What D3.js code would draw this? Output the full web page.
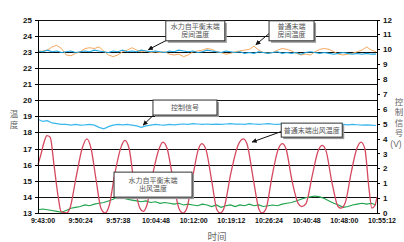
<!DOCTYPE html>
<meta charset="utf-8">
<style>
body { margin: 0; background: #fff; font-family: "Liberation Sans", Arial, sans-serif; }
.axis path, .axis line { stroke: #000; stroke-width: 1; shape-rendering: crispEdges; }
.axis text { font-weight: bold; fill: #111; }
.grid line { stroke: #111; stroke-width: 1; shape-rendering: crispEdges; }
.note text { font-family: "Noto Sans CJK SC", sans-serif; font-size: 7px; fill: #555; }
.title { font-family: "Noto Sans CJK SC", sans-serif; font-size: 8.5px; fill: #666; }
</style>
<body>
<script src="https://d3js.org/d3.v7.min.js"></script>
<script>

// x in minutes after 9:43:00
var timeLabels = ["9:43:00", "9:50:24", "9:57:38", "10:04:48", "10:12:00", "10:19:12", "10:26:24", "10:40:48", "10:48:00", "10:55:12"];
var totalMinutes = 72.2;
var rightLabels = ["0", "1", "1", "2", "3", "4", "5", "6", "7", "8", "9", "10", "11", "12"];

// 普通末端出风温度 [minute, °C]
var redOutlet = [
  [0.0,16.0],[0.6,16.6],[1.3,17.4],[1.9,17.8],[2.6,17.7],[3.4,16.0],[4.3,14.0],[4.9,13.1],[6.0,13.0],[6.8,13.3],
  [8.1,15.2],[9.4,17.0],[10.4,17.6],[11.3,17.0],[12.4,15.0],[13.4,13.3],[14.3,13.0],[15.1,13.4],[16.4,15.5],[17.7,17.1],
  [18.5,17.5],[19.4,17.0],[20.4,15.0],[21.7,13.3],[22.4,13.1],[23.2,13.5],[24.5,15.5],[25.8,17.0],[26.6,17.4],[27.5,17.0],
  [28.8,15.0],[30.0,13.3],[30.9,13.0],[31.7,13.3],[33.0,15.3],[34.1,16.9],[34.9,17.3],[35.8,16.9],[37.1,14.8],[38.1,13.2],
  [38.8,13.0],[39.6,13.3],[41.1,15.5],[42.6,17.2],[43.7,17.6],[44.5,17.3],[45.8,15.2],[47.1,13.2],[47.7,13.0],[48.6,13.3],
  [49.8,15.2],[51.1,16.9],[52.0,17.3],[52.8,17.0],[54.1,15.0],[55.4,13.6],[56.2,13.4],[57.1,13.6],[58.4,15.3],[59.6,16.8],
  [60.5,17.2],[61.3,16.9],[62.6,14.9],[63.9,13.4],[64.5,13.3],[65.4,13.6],[66.7,15.5],[67.9,17.0],[68.8,17.4],[69.6,17.0],
  [70.5,14.5],[71.1,13.3],[71.8,13.5],[72.2,14.0]
];

// one value per minute, 0..72
var greenOutlet = [13.2,13.25,13.2,13.15,13.1,13.05,13.15,13.3,13.35,13.4,13.5,13.45,13.55,13.6,13.65,13.75,13.85,14.0,13.95,13.85,
  13.8,13.75,13.7,13.75,13.65,13.7,13.6,13.65,13.6,13.55,13.6,13.5,13.55,13.5,13.45,13.55,13.5,13.4,13.5,13.35,
  13.45,13.5,13.4,13.5,13.45,13.55,13.45,13.5,13.4,13.45,13.5,13.45,13.55,13.6,13.65,13.75,13.85,13.95,14.0,14.05,
  14.0,13.9,13.75,13.6,13.5,13.35,13.4,13.5,13.55,13.6,13.55,13.6,13.5];

var orangeRoom = [23.0,23.05,23.1,23.3,23.4,23.2,22.8,22.75,22.9,23.0,23.2,23.25,23.2,23.3,23.05,22.8,22.7,22.8,23.0,23.1,
  23.25,23.1,23.0,23.05,22.95,23.0,22.95,23.0,22.85,22.8,22.85,22.7,22.8,23.0,23.05,23.1,23.2,23.15,23.0,22.95,
  22.85,22.9,23.0,23.05,23.1,23.15,23.35,23.1,22.95,22.9,22.95,23.1,23.2,23.15,23.05,22.9,22.8,22.85,22.8,23.0,
  23.15,23.2,23.15,23.0,22.85,22.8,22.85,22.9,23.0,23.1,23.3,23.1,23.0];

var blueRoom = [23.05,23.0,23.1,23.0,23.05,22.95,23.0,23.05,22.95,23.0,23.05,23.0,23.1,23.05,23.0,22.95,23.05,23.0,23.1,23.0,
  23.05,23.0,23.1,23.05,23.0,23.05,23.0,22.95,23.05,23.0,23.1,23.05,23.0,23.05,22.95,23.0,23.1,23.05,23.0,22.95,
  23.05,23.0,22.95,23.0,22.9,22.95,22.9,23.0,22.95,22.9,22.95,23.0,22.9,22.95,22.9,22.95,22.85,22.95,23.0,22.95,
  22.9,22.95,22.9,22.85,22.9,22.95,22.9,22.85,22.9,22.85,22.9,22.85,22.85];

// 控制信号, right axis units
var control = [6.3,6.15,6.2,6.05,6.0,5.95,5.95,5.9,5.95,5.9,5.92,5.95,5.9,5.75,5.65,5.8,5.9,5.95,5.92,5.95,
  5.9,5.85,5.75,5.85,5.9,5.95,5.92,5.9,5.95,5.92,5.95,5.98,5.95,6.0,5.98,5.95,5.98,5.95,5.97,5.95,
  5.98,6.0,5.97,5.98,5.95,6.0,5.98,5.95,5.98,6.0,5.97,5.95,5.98,6.0,5.98,5.95,5.97,6.0,5.98,5.95,
  5.97,5.95,5.98,6.0,5.97,5.95,5.92,5.95,5.93,5.9,5.92,5.9,5.88];

// callouts: centre, tip of arrow and arrow start in data units
var notes = [
  {lines: ["水力自平衡末端", "房间温度"], cx: 33.5, cy: 24.3, w: 59, h: 20, from: [27.3, 23.7], tip: [23.5, 23.13]},
  {lines: ["普通末端", "房间温度"], cx: 54.0, cy: 24.3, w: 45, h: 20, from: [49.3, 24.15], tip: [46.4, 23.44]},
  {lines: ["控制信号"], cx: 31.3, cy: 19.54, w: 64, h: 15, from: [24.7, 19.1], tip: [22.4, 18.45]},
  {lines: ["普通末端出风温度"], cx: 58.3, cy: 18.14, w: 61, h: 14, from: [51.8, 18.05], tip: [45.6, 17.4]},
  {lines: ["水力自平衡末端", "出风温度"], cx: 24.5, cy: 14.76, w: 78, h: 25}
];

var W = 404, H = 242;
var plotL = 38, plotR = 377, plotT = 19.5, plotB = 213;

var svg = d3.select("body").append("svg")
    .attr("width", W)
    .attr("height", H);

var x = d3.scaleLinear().domain([0, totalMinutes]).range([plotL, plotR]);
var y = d3.scaleLinear().domain([13, 25]).range([plotB, plotT]);
var yR = d3.scaleLinear().domain([0, 13]).range([plotB, plotT]);

// horizontal grid
svg.append("g").attr("class", "grid")
  .selectAll("line").data(d3.range(13, 26)).enter().append("line")
    .attr("x1", plotL).attr("x2", plotR)
    .attr("y1", function(d) { return Math.round(y(d)) + 0.5; })
    .attr("y2", function(d) { return Math.round(y(d)) + 0.5; });

var line = d3.line()
    .x(function(d, i) { return x(i); })
    .y(function(d) { return y(d); });

svg.append("path").datum(orangeRoom)
    .attr("d", line).attr("fill", "none").attr("stroke", "#f5a860").attr("stroke-width", 1);
svg.append("path").datum(blueRoom)
    .attr("d", line).attr("fill", "none").attr("stroke", "#1ba6e0").attr("stroke-width", 1.1);

svg.append("path").datum(control)
    .attr("d", d3.line().x(function(d, i) { return x(i); }).y(function(d) { return yR(d); }))
    .attr("fill", "none").attr("stroke", "#3ab7ec").attr("stroke-width", 1.2);

svg.append("path").datum(greenOutlet)
    .attr("d", line).attr("fill", "none").attr("stroke", "#1ea34c").attr("stroke-width", 1.1);

svg.append("path").datum(redOutlet)
    .attr("d", d3.line().curve(d3.curveMonotoneX)
      .x(function(d) { return x(d[0]); })
      .y(function(d) { return y(d[1]); }))
    .attr("fill", "none").attr("stroke", "#d5485e").attr("stroke-width", 1.3);

// arrow head
svg.append("defs").append("marker")
    .attr("id", "arr").attr("viewBox", "0 0 10 10")
    .attr("refX", 9).attr("refY", 5)
    .attr("markerWidth", 5).attr("markerHeight", 5)
    .attr("orient", "auto")
  .append("path").attr("d", "M0,0L10,5L0,10z").attr("fill", "#111");

var note = svg.selectAll(".note").data(notes).enter().append("g").attr("class", "note");
note.filter(function(d) { return d.tip; }).append("line")
    .attr("x1", function(d) { return x(d.from[0]); })
    .attr("y1", function(d) { return y(d.from[1]); })
    .attr("x2", function(d) { return x(d.tip[0]); })
    .attr("y2", function(d) { return y(d.tip[1]); })
    .attr("stroke", "#111").attr("stroke-width", 1)
    .attr("marker-end", "url(#arr)");
note.append("rect")
    .attr("x", function(d) { return x(d.cx) - d.w / 2 + 2; })
    .attr("y", function(d) { return y(d.cy) - d.h / 2 + 2; })
    .attr("width", function(d) { return d.w; })
    .attr("height", function(d) { return d.h; })
    .attr("fill", "#999");
note.append("rect")
    .attr("x", function(d) { return x(d.cx) - d.w / 2; })
    .attr("y", function(d) { return y(d.cy) - d.h / 2; })
    .attr("width", function(d) { return d.w; })
    .attr("height", function(d) { return d.h; })
    .attr("fill", "#fff").attr("stroke", "#333").attr("stroke-width", 1);
note.each(function(d) {
  var g = d3.select(this), n = d.lines.length;
  d.lines.forEach(function(t, i) {
    g.append("text")
      .attr("x", x(d.cx))
      .attr("y", y(d.cy) + (i - (n - 1) / 2) * 8.5)
      .attr("dy", "0.35em")
      .attr("text-anchor", "middle")
      .text(t);
  });
});

// axes
svg.append("g").attr("class", "axis")
    .attr("transform", "translate(" + plotL + ",0)")
    .call(d3.axisLeft(y).tickValues(d3.range(13, 26)).tickSize(3).tickSizeOuter(0).tickPadding(3))
    .selectAll("text").style("font-size", "8px");

svg.append("g").attr("class", "axis")
    .attr("transform", "translate(" + plotR + ",0)")
    .call(d3.axisRight(yR).tickValues(d3.range(14)).tickSize(3).tickSizeOuter(0).tickPadding(3)
      .tickFormat(function(d, i) { return rightLabels[i]; }))
    .selectAll("text").style("font-size", "8px");

svg.append("g").attr("class", "axis")
    .attr("transform", "translate(0," + plotB + ")")
    .call(d3.axisBottom(x)
      .tickValues(timeLabels.map(function(d, i) { return i * totalMinutes / 9; }))
      .tickFormat(function(d, i) { return timeLabels[i]; })
      .tickSize(0).tickSizeOuter(0).tickPadding(5))
    .selectAll("text").style("font-size", "7px").attr("dx", 4.5);

// axis titles, stacked vertically
svg.append("text").attr("class", "title").attr("x", 14).attr("y", 114).attr("dy", "0.35em")
    .attr("text-anchor", "middle").text("温");
svg.append("text").attr("class", "title").attr("x", 14).attr("y", 125).attr("dy", "0.35em")
    .attr("text-anchor", "middle").text("度");

["控", "制", "信", "号"].forEach(function(c, i) {
  svg.append("text").attr("class", "title").attr("x", 399).attr("y", 102 + i * 10.5).attr("dy", "0.35em")
      .attr("text-anchor", "middle").text(c);
});
svg.append("text").attr("class", "title").attr("x", 396).attr("y", 144).attr("dy", "0.35em")
    .attr("text-anchor", "middle").style("font-family", "'Liberation Sans', Arial, sans-serif").text("(V)");

svg.append("text").attr("class", "title").attr("x", 217).attr("y", 237).attr("dy", "0.35em")
    .attr("text-anchor", "middle").style("font-size", "9.5px").text("时间");

</script>
</body>
